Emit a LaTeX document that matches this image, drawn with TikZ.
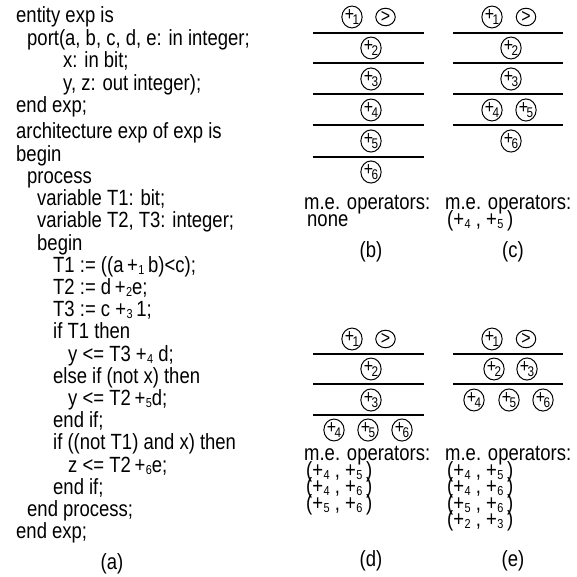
\documentclass[tikz,border=0pt]{standalone}
\usepackage{fontspec}
\setmainfont[FakeStretch=0.84]{Liberation Sans}
\usetikzlibrary{shapes.geometric}
\newcommand\codefont{\fontsize{22}{22}\selectfont}
\newcommand\sop[1]{+\kern0.02em\raisebox{-0.2ex}{\fontsize{13}{13}\selectfont #1}}
\newcommand\cop[1]{{\fontsize{19}{19}\selectfont\raisebox{0.15ex}{+}\kern-0.08em\raisebox{-0.3ex}{\fontsize{14}{14}\selectfont #1}}}
\newcommand\cgt{{\fontsize{19}{19}\selectfont >}}
\begin{document}
\begin{tikzpicture}[x=1pt,y=-1pt,
  code/.style={anchor=base west, inner sep=0, font=\codefont},
  lbl/.style={anchor=base, inner sep=0, font=\codefont},
  opc/.style={draw, ellipse, minimum width=19.5pt, minimum height=17.5pt, inner sep=0, line width=1pt},
  sep/.style={line width=1.4pt}]
\useasboundingbox (0,0) rectangle (577,577);
% ---------- (a) code ----------
\node[code] (l1) at (16,23) {entity exp is};
\node[code] (l2) at (27,45.5) {port(a, b, c, d, e: in integer;};
\node[code] (l3) at (63,68) {x: in bit;};
\node[code] (l4) at (63,90.5) {y, z: out integer);};
\node[code] (l5) at (16,113) {end exp;};
\node[code] (l6) at (16,139) {architecture exp of exp is};
\node[code] (l7) at (16,161.2) {begin};
\node[code] (l8) at (27,183.4) {process};
\node[code] (l9) at (37,205.6) {variable T1: bit;};
\node[code] (l10) at (37,227.8) {variable T2, T3: integer;};
\node[code] (l11) at (37,250) {begin};
\node[code] (l12) at (53,272.2) {T1 := ((a\,\sop{1}\,b)<c);};
\node[code] (l13) at (53,294.4) {T2 := d\,\sop{2}e;};
\node[code] (l14) at (53,316.6) {T3 := c \sop{3}\,1;};
\node[code] (l15) at (53,338.8) {if T1 then};
\node[code] (l16) at (68,361) {y <= T3 \sop{4} d;};
\node[code] (l17) at (53,383.2) {else if (not x) then};
\node[code] (l18) at (68,405.4) {y <= T2\,\sop{5}d;};
\node[code] (l19) at (53,427.6) {end if;};
\node[code] (l20) at (53,449.8) {if ((not T1) and x) then};
\node[code] (l21) at (68,472) {z <= T2\,\sop{6}e;};
\node[code] (l22) at (53,494.2) {end if;};
\node[code] (l23) at (27,516.4) {end process;};
\node[code] (l24) at (16,538.6) {end exp;};
\node[lbl] (la) at (112,569) {(a)};
% ---------- (b) ----------
\foreach \yy in {33,63,94,125,157} \draw[sep] (313,\yy) -- (424,\yy);
\node[opc] (b1) at (352,17) {\cop1};
\node[opc] (bg) at (385.5,17) {\cgt};
\node[opc] (b2) at (371,48) {\cop2};
\node[opc] (b3) at (371,79) {\cop3};
\node[opc] (b4) at (371,110) {\cop4};
\node[opc] (b5) at (371,141) {\cop5};
\node[opc] (b6) at (371,172) {\cop6};
\node[code] (bt1) at (304,209) {m.e. operators:};
\node[code] (bt2) at (307,226) {none};
\node[lbl] (lb) at (371,257) {(b)};
% ---------- (c) ----------
\foreach \yy in {33,63,94,125} \draw[sep] (453,\yy) -- (563,\yy);
\node[opc] (c1) at (492,17) {\cop1};
\node[opc] (cg) at (526,17) {\cgt};
\node[opc] (c2) at (511,48) {\cop2};
\node[opc] (c3) at (511,79) {\cop3};
\node[opc] (c4) at (492,110) {\cop4};
\node[opc] (c5) at (526,110) {\cop5};
\node[opc] (c6) at (511,141) {\cop6};
\node[code] (ct1) at (445,209) {m.e. operators:};
\node[code] (ct2) at (447,226) {(\sop4\ ,\ \sop5\,)};
\node[lbl] (lc) at (513,257) {(c)};
% ---------- (d) ----------
\foreach \yy in {354,384,415} \draw[sep] (313,\yy) -- (424,\yy);
\node[opc] (d1) at (352,339) {\cop1};
\node[opc] (dg) at (385.5,339) {\cgt};
\node[opc] (d2) at (371,369) {\cop2};
\node[opc] (d3) at (371,400) {\cop3};
\node[opc] (d4) at (334,430) {\cop4};
\node[opc] (d5) at (368,430) {\cop5};
\node[opc] (d6) at (402,430) {\cop6};
\node[code] (dt1) at (304,460) {m.e. operators:};
\node[code] (dt2) at (306,477) {(\sop4\ ,\ \sop5\,)};
\node[code] (dt3) at (306,493.5) {(\sop4\ ,\ \sop6\,)};
\node[code] (dt4) at (306,510) {(\sop5\ ,\ \sop6\,)};
\node[lbl] (ld) at (371,566) {(d)};
% ---------- (e) ----------
\foreach \yy in {354,384} \draw[sep] (453,\yy) -- (563,\yy);
\node[opc] (e1) at (492,339) {\cop1};
\node[opc] (eg) at (526,339) {\cgt};
\node[opc] (e2) at (494,369) {\cop2};
\node[opc] (e3) at (527,369) {\cop3};
\node[opc] (e4) at (474,400) {\cop4};
\node[opc] (e5) at (509,400) {\cop5};
\node[opc] (e6) at (543,400) {\cop6};
\node[code] (et1) at (445,460) {m.e. operators:};
\node[code] (et2) at (447,477) {(\sop4\ ,\ \sop5\,)};
\node[code] (et3) at (447,493.5) {(\sop4\ ,\ \sop6\,)};
\node[code] (et4) at (447,510) {(\sop5\ ,\ \sop6\,)};
\node[code] (et5) at (447,526.5) {(\sop2\ ,\ \sop3\,)};
\node[lbl] (le) at (513,566) {(e)};
\end{tikzpicture}
\end{document}
